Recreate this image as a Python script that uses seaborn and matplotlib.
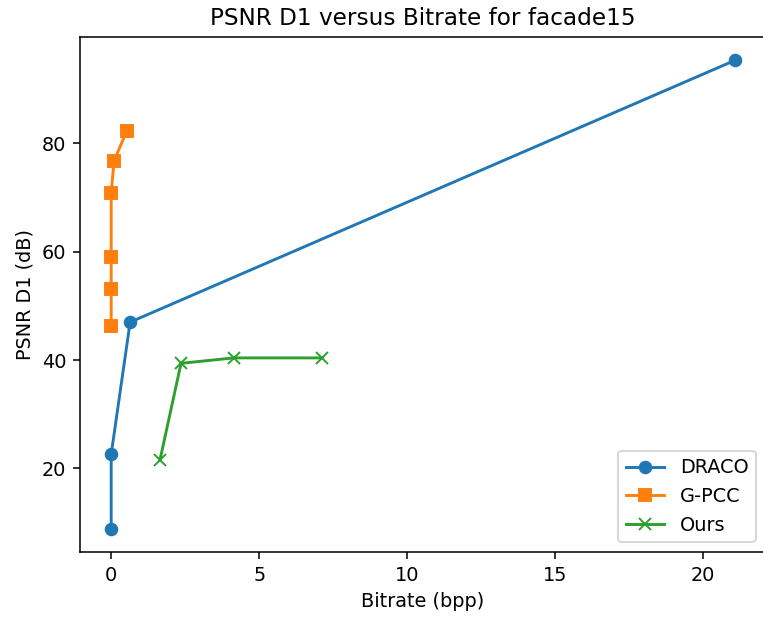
import matplotlib
matplotlib.use("Agg")
import matplotlib.pyplot as plt
import seaborn as sns
import pandas as pd

# Data
draco_bitrate = [0.0, 0.0, 0.64, 21.07]
draco_psnr = [8.9, 22.6, 47.0, 95.3]

gpcc_bitrate = [0.0, 0.0, 0.0, 0.0, 0.1, 0.52]
gpcc_psnr = [46.3, 53.1, 59.1, 70.9, 76.8, 82.2]

ours_bitrate = [1.65, 2.36, 4.14, 7.12]
ours_psnr = [21.6, 39.4, 40.4, 40.4]

series_names = ["DRACO", "G-PCC", "Ours"]
series_markers = ["o", "s", "x"]
series_colors = ["#1f77b4", "#ff7f0e", "#2ca02c"]

title = "PSNR D1 versus Bitrate for facade15"
xlabel = "Bitrate (bpp)"
ylabel = "PSNR D1 (dB)"

dpi = 139
fig = plt.figure(figsize=(763 / dpi, 619 / dpi), dpi=dpi)
ax = fig.add_axes([80 / 763, (619 - 552) / 619, (766 - 80) / 763, (552 - 37) / 619])

data = [(draco_bitrate, draco_psnr), (gpcc_bitrate, gpcc_psnr), (ours_bitrate, ours_psnr)]
for (xs, ys), name, mk, col in zip(data, series_names, series_markers, series_colors):
    df = pd.DataFrame({"x": xs, "y": ys})
    sns.lineplot(data=df, x="x", y="y", ax=ax, sort=False, estimator=None,
                 color=col, marker=mk, markersize=6, markeredgewidth=1.0,
                 markeredgecolor=col, markerfacecolor=col, linewidth=1.5, label=name)

ax.set_title(title, fontsize=12)
ax.set_xlabel(xlabel)
ax.set_ylabel(ylabel)
ax.set_xticks([0, 5, 10, 15, 20])
ax.set_yticks([20, 40, 60, 80])
ax.legend(loc="lower right")

fig.savefig("out.png", dpi=dpi)
